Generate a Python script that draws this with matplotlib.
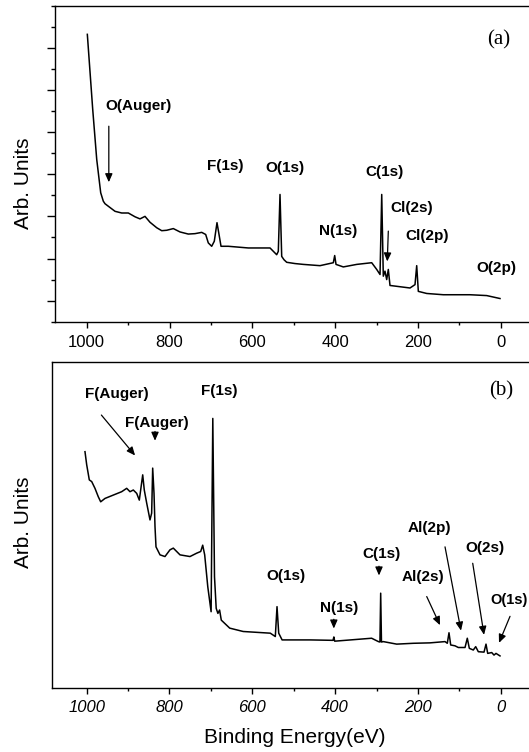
import numpy as np
import matplotlib.pyplot as plt
from matplotlib.ticker import MultipleLocator

plt.rcParams['font.family'] = ['Liberation Sans', 'DejaVu Sans']

# (a) survey spectrum: binding energy (eV) and intensity (arb. units)
be_a = [998.5, 985.5, 975.8, 966.2, 959.9, 955.8, 947.8, 931.6, 915.5, 899.5,
        883.3, 871.3, 859.2, 847.1, 830.9, 818.8, 806.8, 790.8, 774.6, 754.6,
        738.4, 722.2, 712.6, 706.3, 698.1, 691.8, 685.3, 680.4, 675.6, 658.0,
        633.8, 609.7, 577.3, 557.2, 541.1, 537.2, 533.1, 529.0, 523.4, 516.9,
        496.9, 476.8, 436.5, 404.3, 401.0, 397.8, 380.2, 347.8, 311.6, 299.5,
        291.5, 287.4, 283.6, 279.5, 275.4, 271.5, 267.4, 251.2, 219.1, 207.0,
        202.9, 199.0, 178.7, 138.6, 74.2, 33.8, 1.7]
int_a = [6.32, 4.54, 3.35, 2.56, 2.36, 2.30, 2.24, 2.12, 2.08, 2.08,
         1.99, 1.94, 2.00, 1.86, 1.73, 1.66, 1.67, 1.71, 1.63, 1.58,
         1.59, 1.62, 1.57, 1.37, 1.29, 1.41, 1.85, 1.57, 1.29, 1.29,
         1.27, 1.25, 1.25, 1.25, 1.09, 1.17, 2.52, 1.05, 0.97, 0.91,
         0.88, 0.86, 0.83, 0.90, 1.07, 0.86, 0.80, 0.86, 0.90, 0.74,
         0.62, 2.52, 0.58, 0.70, 0.50, 0.74, 0.36, 0.34, 0.30, 0.38,
         0.83, 0.22, 0.17, 0.14, 0.14, 0.12, 0.05]

# (b) survey spectrum
be_b = [1004.1, 1000.0, 993.7, 987.9, 980.0, 972.0, 966.2, 955.8, 935.7, 915.5,
        903.4, 895.4, 887.4, 879.2, 872.9, 864.7, 860.9, 855.1, 847.1, 843.1,
        840.6, 837.4, 835.0, 832.6, 822.9, 810.9, 798.8, 790.8, 774.6, 750.5,
        734.3, 724.6, 719.8, 715.0, 707.5, 699.5, 695.4, 691.3, 687.2, 683.1,
        679.0, 674.9, 654.6, 622.0, 556.5, 544.4, 540.3, 536.2, 528.0, 460.0,
        405.0, 403.0, 401.0, 311.8, 295.4, 291.7, 289.9, 288.0, 283.6, 251.2,
        211.1, 170.8, 134.5, 129.0, 124.9, 120.8, 110.4, 102.4, 86.2, 80.7,
        75.8, 66.2, 60.4, 54.1, 40.3, 35.5, 31.4, 21.7, 16.2, 11.4, 1.7]
int_b = [5.60, 5.29, 4.93, 4.89, 4.73, 4.53, 4.41, 4.49, 4.57, 4.65,
         4.73, 4.65, 4.69, 4.61, 4.45, 5.05, 4.69, 4.38, 3.98, 4.14,
         5.21, 4.61, 3.82, 3.34, 3.15, 3.11, 3.27, 3.31, 3.15, 3.11,
         3.19, 3.23, 3.38, 3.15, 2.39, 1.80, 6.39, 2.63, 1.88, 1.76,
         1.84, 1.60, 1.41, 1.33, 1.29, 1.21, 1.92, 1.29, 1.13, 1.13,
         1.12, 1.20, 1.10, 1.17, 1.09, 1.08, 2.24, 1.08, 1.09, 1.03,
         1.05, 1.06, 1.09, 1.05, 1.30, 1.01, 0.99, 0.95, 0.95, 1.17,
         0.93, 0.89, 0.97, 0.85, 0.84, 1.03, 0.81, 0.83, 0.77, 0.81, 0.75]

lab_font = dict(fontsize=11, fontweight='bold', ha='center', va='center')
arrow = dict(arrowstyle='-|>,head_length=0.5,head_width=0.22', color='k',
             lw=0.9, shrinkA=0, shrinkB=0, mutation_scale=10)


def style_axis(ax, italic=False):
    for s in ax.spines.values():
        s.set_linewidth(1.0)
    ax.xaxis.set_major_locator(MultipleLocator(200))
    ax.xaxis.set_minor_locator(MultipleLocator(100))
    ax.tick_params(axis='x', which='major', direction='out', length=4.3,
                   width=1, pad=5, labelsize=12, top=False)
    ax.tick_params(axis='x', which='minor', direction='out', length=2.5,
                   width=1, top=False)
    if italic:
        for t in ax.get_xticklabels():
            t.set_fontstyle('italic')


fig = plt.figure(figsize=(5.29, 7.52), dpi=100)

# ---- panel (a)
ax1 = fig.add_axes([54.5 / 529, (752 - 321.7) / 752, (533 - 54.5) / 529, 316 / 752])
ax1.plot(be_a, int_a, color='k', lw=1.1)
ax1.set_xlim(1077.8, -78.0)
ax1.set_ylim(-0.5, 7.0)
style_axis(ax1)
ax1.set_yticks(np.arange(0, 7))
ax1.yaxis.set_minor_locator(MultipleLocator(0.5))
ax1.tick_params(axis='y', which='major', direction='out', length=6, width=1,
                labelleft=False, right=False)
ax1.tick_params(axis='y', which='minor', direction='out', length=3, width=1,
                right=False)

ax1.text(874.9, 4.63, 'O(Auger)', **lab_font)
ax1.annotate('', xy=(946.6, 2.81), xytext=(946.6, 4.14), arrowprops=arrow)
ax1.text(664.3, 3.19, 'F(1s)', **lab_font)
ax1.text(521.5, 3.15, 'O(1s)', **lab_font)
ax1.text(392.3, 1.65, 'N(1s)', **lab_font)
ax1.text(280.7, 3.05, 'C(1s)', **lab_font)
ax1.text(215.0, 2.20, 'Cl(2s)', **lab_font)
ax1.annotate('', xy=(274.0, 0.93), xytext=(271.5, 1.65), arrowprops=arrow)
ax1.text(177.3, 1.53, 'Cl(2p)', **lab_font)
ax1.text(11.4, 0.78, 'O(2p)', **lab_font)
ax1.text(5.8, 6.18, '(a)', fontsize=15, family='Liberation Serif',
         ha='center', va='center')

# ---- panel (b)
ax2 = fig.add_axes([51.5 / 529, (752 - 687.5) / 752, (533 - 51.5) / 529, 325.5 / 752])
ax2.plot(be_b, int_b, color='k', lw=1.1)
ax2.set_xlim(1085.0, -78.0)
ax2.set_ylim(0, 7.73)
ax2.set_yticks([])
style_axis(ax2, italic=True)

ax2.text(927.8, 6.96, 'F(Auger)', **lab_font)
ax2.annotate('', xy=(883.1, 5.51), xytext=(964.5, 6.47), arrowprops=arrow)
ax2.text(830.9, 6.29, 'F(Auger)', **lab_font)
ax2.annotate('', xy=(835.0, 5.86), xytext=(835.0, 6.08), arrowprops=arrow)
ax2.text(679.0, 7.03, 'F(1s)', **lab_font)
ax2.text(519.8, 2.65, 'O(1s)', **lab_font)
ax2.text(390.8, 1.88, 'N(1s)', **lab_font)
ax2.annotate('', xy=(403.1, 1.40), xytext=(403.1, 1.62), arrowprops=arrow)
ax2.text(287.2, 3.17, 'C(1s)', **lab_font)
ax2.annotate('', xy=(294.0, 2.66), xytext=(294.0, 2.88), arrowprops=arrow)
ax2.text(187.0, 2.62, 'Al(2s)', **lab_font)
ax2.annotate('', xy=(146.6, 1.48), xytext=(178.7, 2.16), arrowprops=arrow)
ax2.text(173.0, 3.78, 'Al(2p)', **lab_font)
ax2.annotate('', xy=(95.9, 1.35), xytext=(134.5, 3.34), arrowprops=arrow)
ax2.text(37.9, 3.31, 'O(2s)', **lab_font)
ax2.annotate('', xy=(40.3, 1.25), xytext=(67.6, 2.95), arrowprops=arrow)
ax2.text(-20.0, 2.07, 'O(1s)', fontsize=10.5, fontweight='bold',
         ha='center', va='center')
ax2.annotate('', xy=(4.1, 1.06), xytext=(-22.5, 1.69), arrowprops=arrow)
ax2.text(-0.7, 7.05, '(b)', fontsize=15, family='Liberation Serif',
         ha='center', va='center')

# axis titles
fig.text(24 / 529, 1 - 183.3 / 752, 'Arb. Units', rotation=90, fontsize=15,
         ha='center', va='center')
fig.text(24 / 529, 1 - 522.5 / 752, 'Arb. Units', rotation=90, fontsize=15,
         ha='center', va='center')
fig.text(294.8 / 529, 1 - 737.5 / 752, 'Binding Energy(eV)', fontsize=15,
         ha='center', va='center')

fig.savefig('out.png', dpi=100)
